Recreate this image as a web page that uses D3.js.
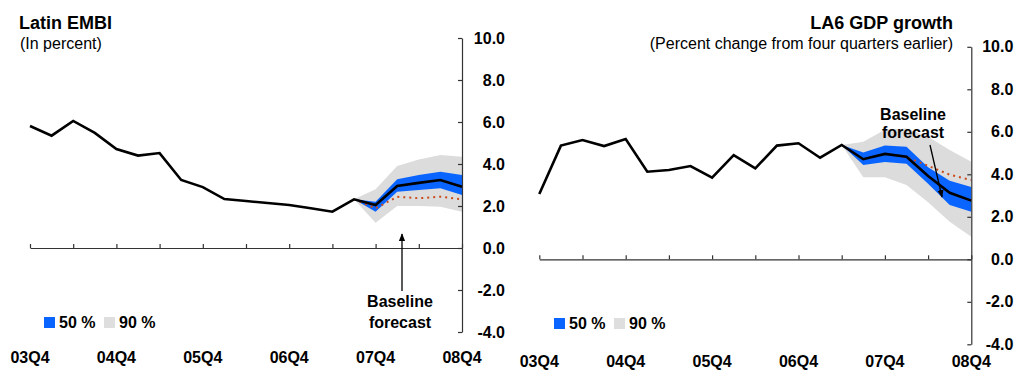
<!DOCTYPE html>
<html>
<head>
<meta charset="utf-8">
<script src="https://cdn.jsdelivr.net/npm/d3@7"></script>
<style>
  body { margin: 0; background: #fff; }
  svg { font-family: "Liberation Sans", Arial, sans-serif; }
</style>
</head>
<body>
<div id="chart"></div>
<script>
// quarters 03Q4 .. 08Q4 (index 0..20)
var yearLabels = ["03Q4", "04Q4", "05Q4", "06Q4", "07Q4", "08Q4"];
var yTicks = [-4, -2, 0, 2, 4, 6, 8, 10];

// Latin EMBI, history q0..q15
var embiHist = [5.81, 5.35, 6.05, 5.48, 4.71, 4.40, 4.52, 3.24, 2.90, 2.33, 2.24, 2.14, 2.05, 1.89, 1.73, 2.32];
// forecast q15..q20
var embiBase = [2.32, 2.05, 2.95, 3.10, 3.24, 2.92];
var embi50Lo = [2.32, 1.73, 2.68, 2.76, 2.84, 2.52];
var embi50Hi = [2.32, 2.20, 3.27, 3.48, 3.63, 3.48];
var embi90Lo = [2.32, 1.20, 2.00, 2.00, 1.97, 1.73];
var embi90Hi = [2.32, 2.80, 3.90, 4.22, 4.43, 4.35];
var embiDot  = [2.32, 1.89, 2.44, 2.37, 2.44, 2.32];

// LA6 GDP growth, history q0..q14
var gdpHist = [3.07, 5.35, 5.61, 5.33, 5.66, 4.12, 4.20, 4.39, 3.84, 4.90, 4.28, 5.35, 5.46, 4.78, 5.38];
// forecast q14..q20
var gdpBase = [5.38, 4.71, 4.96, 4.83, 3.92, 3.13, 2.76];
var gdp50Lo = [5.38, 4.44, 4.58, 4.50, 3.55, 2.56, 2.24];
var gdp50Hi = [5.38, 5.03, 5.35, 5.30, 4.33, 3.70, 3.40];
var gdp90Lo = [5.38, 3.86, 3.86, 3.50, 2.68, 1.77, 1.06];
var gdp90Hi = [5.38, 5.53, 6.10, 6.15, 5.77, 5.14, 4.59];
// dotted line q16..q20
var gdpDot  = [4.96, 4.81, 4.40, 3.98, 3.73];

var svg = d3.select("#chart").append("svg")
    .attr("width", 1018)
    .attr("height", 372);

svg.append("defs").append("marker")
    .attr("id", "arrow")
    .attr("viewBox", "0 0 10 10")
    .attr("refX", 9).attr("refY", 5)
    .attr("markerWidth", 6).attr("markerHeight", 6)
    .attr("orient", "auto-start-reverse")
    .append("path")
    .attr("d", "M0,1L10,5L0,9Z")
    .attr("fill", "#000");

function drawPanel(opt) {
    var x = d3.scaleLinear().domain([0, 20]).range([opt.x0, opt.x1]);
    var y = d3.scaleLinear().domain([-4, 10]).range([opt.yBot, opt.yTop]);
    var g = svg.append("g");

    var area = function (lo, hi, start) {
        var pts = lo.map((d, i) => ({ q: start + i, lo: d, hi: hi[i] }));
        return d3.area().x(d => x(d.q)).y0(d => y(d.lo)).y1(d => y(d.hi))(pts);
    };
    var line = d3.line().x(d => x(d.q)).y(d => y(d.v));

    g.append("path").attr("d", area(opt.lo90, opt.hi90, opt.fStart)).attr("fill", "#dcdcdc");
    g.append("path").attr("d", area(opt.lo50, opt.hi50, opt.fStart)).attr("fill", "#0a64ff");

    g.append("path")
        .attr("d", line(opt.dot.map((d, i) => ({ q: opt.dStart + i, v: d }))))
        .attr("fill", "none")
        .attr("stroke", "#cc4a1a")
        .attr("stroke-width", 2)
        .attr("stroke-dasharray", "2,4");

    var all = opt.hist.map((d, i) => ({ q: i, v: d }))
        .concat(opt.base.slice(1).map((d, i) => ({ q: opt.fStart + 1 + i, v: d })));
    g.append("path")
        .attr("d", line(all))
        .attr("fill", "none")
        .attr("stroke", "#000")
        .attr("stroke-width", 2.6)
        .attr("stroke-linejoin", "miter");

    // x axis at zero, ticks pointing up
    var xAxis = g.append("g")
        .attr("transform", `translate(0,${y(0)})`)
        .call(d3.axisTop(x).tickValues(d3.range(0, 21, 2)).tickSizeInner(4).tickSizeOuter(0).tickFormat(""));
    xAxis.selectAll("path,line").attr("stroke", "#333").attr("stroke-width", 1.2);

    // y axis on the right, ticks pointing left
    var yAxis = g.append("g")
        .attr("transform", `translate(${opt.x1},0)`)
        .call(d3.axisRight(y).tickValues(yTicks).tickSizeInner(-4).tickSizeOuter(0)
            .tickPadding(opt.labelPad).tickFormat(d => d.toFixed(1)));
    yAxis.selectAll("path,line").attr("stroke", "#333").attr("stroke-width", 1.2);
    yAxis.selectAll("text")
        .attr("text-anchor", "end")
        .attr("font-size", "16px")
        .attr("font-weight", "bold")
        .attr("font-family", "'Liberation Sans', Arial, sans-serif")
        .attr("fill", "#000");

    // year labels
    g.selectAll(".yr").data(yearLabels).enter().append("text")
        .attr("x", (d, i) => x(i * 4))
        .attr("y", opt.labY)
        .attr("text-anchor", "middle")
        .attr("font-size", "16px")
        .attr("font-weight", "bold")
        .text(d => d);

    // legend
    var lg = g.append("g").attr("transform", `translate(${opt.legX},${opt.legY})`);
    lg.append("rect").attr("x", 0).attr("y", 0).attr("width", 11).attr("height", 11).attr("fill", "#0a64ff");
    lg.append("text").attr("x", 15).attr("y", 11).attr("font-size", "16px").attr("font-weight", "bold").text("50 %");
    lg.append("rect").attr("x", 60).attr("y", 0).attr("width", 11).attr("height", 11).attr("fill", "#dedede");
    lg.append("text").attr("x", 75).attr("y", 11).attr("font-size", "16px").attr("font-weight", "bold").text("90 %");

    return { x: x, y: y, g: g };
}

// Left panel
var left = drawPanel({
    x0: 30, x1: 462, yTop: 38, yBot: 332, labelPad: 43, labY: 363,
    hist: embiHist, base: embiBase, fStart: 15,
    lo50: embi50Lo, hi50: embi50Hi, lo90: embi90Lo, hi90: embi90Hi,
    dot: embiDot, dStart: 15, legX: 44, legY: 317
});

svg.append("text").attr("x", 19).attr("y", 29)
    .attr("font-size", "18px").attr("font-weight", "bold").text("Latin EMBI");
svg.append("text").attr("x", 20).attr("y", 49)
    .attr("font-size", "16px").text("(In percent)");

left.g.append("line")
    .attr("x1", 402).attr("y1", 291).attr("x2", 402).attr("y2", 234)
    .attr("stroke", "#000").attr("stroke-width", 1.3)
    .attr("marker-end", "url(#arrow)");
left.g.append("text").attr("x", 400).attr("y", 307).attr("text-anchor", "middle")
    .attr("font-size", "16px").attr("font-weight", "bold").text("Baseline");
left.g.append("text").attr("x", 400).attr("y", 328).attr("text-anchor", "middle")
    .attr("font-size", "16px").attr("font-weight", "bold").text("forecast");

// Right panel
var right = drawPanel({
    x0: 539.3, x1: 971.3, yTop: 46.8, yBot: 344.3, labelPad: 42, labY: 367,
    hist: gdpHist, base: gdpBase, fStart: 14,
    lo50: gdp50Lo, hi50: gdp50Hi, lo90: gdp90Lo, hi90: gdp90Hi,
    dot: gdpDot, dStart: 16, legX: 554, legY: 318
});

svg.append("text").attr("x", 953).attr("y", 29).attr("text-anchor", "end")
    .attr("font-size", "18px").attr("font-weight", "bold").text("LA6 GDP growth");
svg.append("text").attr("x", 953).attr("y", 49).attr("text-anchor", "end")
    .attr("font-size", "16px").text("(Percent change from four quarters earlier)");

right.g.append("line")
    .attr("x1", 930).attr("y1", 145).attr("x2", 942).attr("y2", 197)
    .attr("stroke", "#000").attr("stroke-width", 1.3)
    .attr("marker-end", "url(#arrow)");
right.g.append("text").attr("x", 913).attr("y", 120).attr("text-anchor", "middle")
    .attr("font-size", "16px").attr("font-weight", "bold").text("Baseline");
right.g.append("text").attr("x", 913).attr("y", 138).attr("text-anchor", "middle")
    .attr("font-size", "16px").attr("font-weight", "bold").text("forecast");
</script>
</body>
</html>
